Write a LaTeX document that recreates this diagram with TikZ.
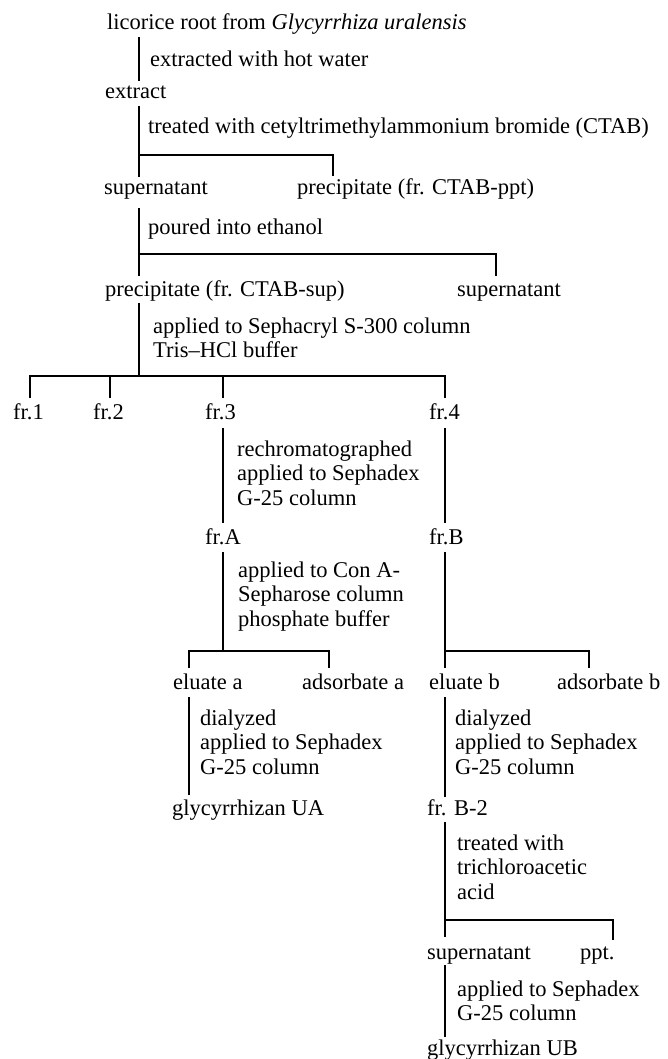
\documentclass[tikz,border=0pt]{standalone}
\usepackage{fontspec}
\setmainfont{Liberation Serif}
\newcommand\mlines[1]{\begin{tabular}[t]{@{}l@{}}#1\end{tabular}}
\begin{document}
\begin{tikzpicture}[x=1pt,y=-1pt]
\tikzset{
  lbl/.style={inner sep=0pt, anchor=base west, font=\fontsize{22.5}{24.5}\selectfont},
  ln/.style={line width=1.2pt, line cap=butt}
}
\useasboundingbox[fill=white] (0,0) rectangle (667,1059);
% texts
\node[lbl] (lic) at (107,30) {licorice root from \textit{Glycyrrhiza uralensis}};
\node[lbl] (s1) at (150,67) {extracted with hot water};
\node[lbl] (ext) at (105,99) {extract};
\node[lbl] (s2) at (148,134) {treated with cetyltrimethylammonium bromide (CTAB)};
\node[lbl] (sup1) at (104,195) {supernatant};
\node[lbl] (ppt1) at (297,195) {precipitate (fr. CTAB-ppt)};
\node[lbl] (s3) at (148,235) {poured into ethanol};
\node[lbl] (pcs) at (105,296) {precipitate (fr. CTAB-sup)};
\node[lbl] (sup2) at (457,296) {supernatant};
\node[lbl] (s4) at (153,333) {\mlines{applied to Sephacryl S-300 column\\Tris--HCl buffer}};
\node[lbl] (fr1) at (13,419) {fr.1};
\node[lbl] (fr2) at (93,419) {fr.2};
\node[lbl] (fr3) at (205,419) {fr.3};
\node[lbl] (fr4) at (429,419) {fr.4};
\node[lbl] (s5) at (237,456) {\mlines{rechromatographed\\applied to Sephadex\\G-25 column}};
\node[lbl] (frA) at (205,544) {fr.A};
\node[lbl] (frB) at (429,544) {fr.B};
\node[lbl] (s6) at (238,577) {\mlines{applied to Con A-\\Sepharose column\\phosphate buffer}};
\node[lbl] (elA) at (173,689) {eluate a};
\node[lbl] (adA) at (302,689) {adsorbate a};
\node[lbl] (elB) at (429,689) {eluate b};
\node[lbl] (adB) at (557,689) {adsorbate b};
\node[lbl] (s7) at (200,725) {\mlines{dialyzed\\applied to Sephadex\\G-25 column}};
\node[lbl] (s8) at (455,725) {\mlines{dialyzed\\applied to Sephadex\\G-25 column}};
\node[lbl] (uA) at (172,815) {glycyrrhizan UA};
\node[lbl] (B2) at (427,815) {fr. B-2};
\node[lbl] (s9) at (457,850) {\mlines{treated with\\trichloroacetic\\acid}};
\node[lbl] (sup3) at (427,959) {supernatant};
\node[lbl] (ppt3) at (580,959) {ppt.};
\node[lbl] (s10) at (457,996) {\mlines{applied to Sephadex\\G-25 column}};
\node[lbl] (uB) at (427,1055) {glycyrrhizan UB};
% coordinates
\coordinate (a1) at (139,37);  \coordinate (a2) at (139,81);
\coordinate (b1) at (139,106); \coordinate (b2) at (139,177);
\coordinate (bj) at (139,155); \coordinate (bk) at (333,155); \coordinate (bl) at (333,176);
\coordinate (c1) at (139,208); \coordinate (c2) at (139,276);
\coordinate (cj) at (139,254); \coordinate (ck) at (496,254); \coordinate (cl) at (496,276);
\coordinate (d1) at (139,303); \coordinate (d2) at (139,376);
\coordinate (h1) at (30,376);  \coordinate (h4) at (445,376);
\coordinate (f1) at (30,398);  \coordinate (f2t) at (110,376); \coordinate (f2) at (110,398);
\coordinate (f3t) at (223,376); \coordinate (f3) at (223,398);
\coordinate (f4) at (445,398);
\coordinate (e1) at (223,428); \coordinate (e2) at (223,523);
\coordinate (g1) at (445,428); \coordinate (g2) at (445,523);
\coordinate (k1) at (223,552); \coordinate (k2) at (223,651);
\coordinate (kl) at (189,651); \coordinate (kr) at (329,651);
\coordinate (kl2) at (189,668); \coordinate (kr2) at (329,668);
\coordinate (m1) at (445,552); \coordinate (m2) at (445,668);
\coordinate (mj) at (445,651); \coordinate (mr) at (589,651); \coordinate (mr2) at (589,668);
\coordinate (n1) at (189,697); \coordinate (n2) at (189,795);
\coordinate (o1) at (445,697); \coordinate (o2) at (445,797);
\coordinate (p1) at (445,822); \coordinate (p2) at (445,937);
\coordinate (pj) at (445,920); \coordinate (pr) at (613,920); \coordinate (pr2) at (613,940);
\coordinate (q1) at (445,965); \coordinate (q2) at (445,1037);
% connectors
\draw[ln] (a1) -- (a2);
\draw[ln] (b1) -- (b2);
\draw[ln] (bj) -- (bk) -- (bl);
\draw[ln] (c1) -- (c2);
\draw[ln] (cj) -- (ck) -- (cl);
\draw[ln] (d1) -- (d2);
\draw[ln] (f1) -- (h1) -- (h4) -- (f4);
\draw[ln] (f2t) -- (f2);
\draw[ln] (f3t) -- (f3);
\draw[ln] (e1) -- (e2);
\draw[ln] (g1) -- (g2);
\draw[ln] (k1) -- (k2);
\draw[ln] (kl2) -- (kl) -- (kr) -- (kr2);
\draw[ln] (m1) -- (m2);
\draw[ln] (mj) -- (mr) -- (mr2);
\draw[ln] (n1) -- (n2);
\draw[ln] (o1) -- (o2);
\draw[ln] (p1) -- (p2);
\draw[ln] (pj) -- (pr) -- (pr2);
\draw[ln] (q1) -- (q2);
\end{tikzpicture}
\end{document}
